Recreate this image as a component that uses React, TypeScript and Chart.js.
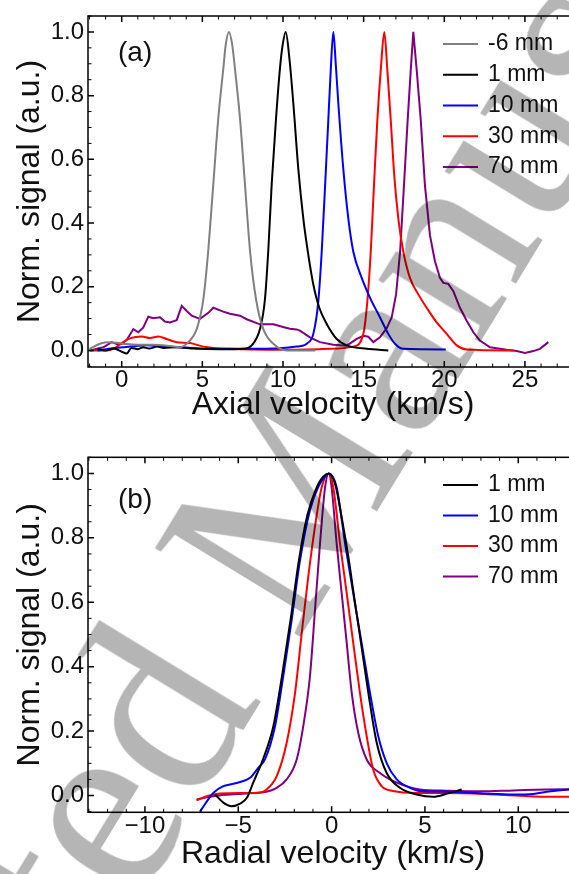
import React, { useEffect, useRef } from "react";
import { Chart, registerables } from "chart.js";

Chart.register(...registerables);

const SANS = "'Liberation Sans', Arial, Helvetica, sans-serif";
const INK = "#111111";

// ---------------- Panel (a): axial velocity ----------------
const axialXTicks = [0, 5, 10, 15, 20, 25];
const normYTicks = [0, 0.2, 0.4, 0.6, 0.8, 1.0];
const axialLabels = ["-6 mm", "1 mm", "10 mm", "30 mm", "70 mm"];
const axialColors = ["#808080", "#000000", "#0000ff", "#ff0000", "#800080"];

const axialM6V = [-2.0, -1.3, -0.8, -0.3, 0.3, 1.0, 2.0, 3.0, 3.61, 4.13, 4.65, 5.06, 5.37, 5.68, 5.99, 6.3, 6.45, 6.65, 6.85, 7.02, 7.33, 7.64, 7.95, 8.33, 8.78, 9.4, 10.23, 11.0, 12.0];
const axialM6S = [0.005, 0.022, 0.026, 0.024, 0.02, 0.018, 0.018, 0.014, 0.01, 0.026, 0.067, 0.16, 0.316, 0.523, 0.73, 0.885, 0.96, 1.0, 0.96, 0.885, 0.73, 0.523, 0.316, 0.16, 0.067, 0.021, 0.0, 0.0, 0.0];

const axial1V = [-1.5, -1.0, -0.5, 0.0, 0.31, 0.6, 1.0, 1.34, 1.7, 2.2, 2.6, 3.4, 4.5, 6.0, 7.0, 7.54, 8.06, 8.57, 8.88, 9.09, 9.3, 9.57, 9.81, 9.98, 10.17, 10.4, 10.64, 10.95, 11.26, 11.57, 11.88, 12.25, 12.71, 13.33, 13.95, 15.19, 16.53];
const axial1S = [0.005, 0.0, 0.006, -0.004, -0.01, 0.008, 0.004, 0.01, 0.006, 0.012, 0.008, 0.01, 0.006, 0.004, 0.004, 0.005, 0.016, 0.067, 0.16, 0.316, 0.523, 0.73, 0.885, 0.96, 1.0, 0.915, 0.776, 0.569, 0.414, 0.3, 0.207, 0.134, 0.083, 0.036, 0.016, 0.005, 0.0];

const axial10V = [-1.5, -0.52, 0.51, 1.55, 2.58, 3.61, 5.67, 7.75, 9.81, 10.85, 11.26, 11.47, 11.88, 12.19, 12.4, 12.61, 12.81, 12.96, 13.12, 13.27, 13.43, 13.74, 14.05, 14.36, 14.88, 15.39, 16.01, 16.53, 16.94, 17.46, 20.09];
const axial10S = [0.0, 0.007, 0.012, 0.016, 0.012, 0.01, 0.005, 0.005, 0.007, 0.012, 0.0155, 0.021, 0.052, 0.155, 0.31, 0.518, 0.724, 0.88, 1.0, 0.9, 0.776, 0.569, 0.414, 0.31, 0.228, 0.166, 0.104, 0.052, 0.021, 0.005, 0.003];

const axial30V = [-2.0, -0.93, -0.4, -0.1, 0.51, 1.24, 1.75, 2.27, 2.79, 3.41, 4.23, 5.06, 6.71, 9.81, 12.91, 14.36, 14.98, 15.23, 15.44, 15.64, 15.85, 16.06, 16.28, 16.47, 16.68, 16.9, 17.15, 17.46, 17.87, 18.39, 18.91, 19.53, 20.15, 20.77, 21.39, 24.3];
const axial30S = [0.0, 0.0, 0.008, 0.02, 0.038, 0.044, 0.039, 0.044, 0.036, 0.026, 0.023, 0.012, 0.005, 0.002, 0.005, 0.012, 0.052, 0.155, 0.31, 0.518, 0.724, 0.88, 1.0, 0.88, 0.724, 0.548, 0.414, 0.31, 0.228, 0.176, 0.134, 0.088, 0.052, 0.016, 0.003, 0.0];

const axial70V = [-1.96, -1.14, -0.62, -0.31, 0.0, 0.31, 0.72, 1.03, 1.34, 1.65, 1.96, 2.37, 2.68, 2.99, 3.41, 3.72, 4.03, 4.34, 4.85, 5.37, 5.68, 6.3, 6.71, 7.33, 7.75, 8.57, 9.4, 10.12, 10.43, 10.85, 11.05, 11.67, 12.29, 13.12, 13.95, 14.57, 14.98, 15.29, 15.6, 16.01, 16.43, 16.74, 17.01, 17.26, 17.5, 17.73, 17.92, 18.08, 18.29, 18.54, 18.8, 19.11, 19.42, 19.73, 19.94, 20.25, 20.56, 20.97, 21.39, 21.8, 22.21, 22.83, 23.87, 24.49, 25.0, 25.52, 25.93, 26.45];
const axial70S = [0.0, 0.01, 0.026, 0.02, 0.02, 0.033, 0.067, 0.057, 0.072, 0.106, 0.101, 0.104, 0.091, 0.088, 0.095, 0.14, 0.124, 0.109, 0.099, 0.118, 0.134, 0.122, 0.115, 0.109, 0.098, 0.082, 0.082, 0.072, 0.068, 0.066, 0.062, 0.041, 0.026, 0.018, 0.015, 0.036, 0.046, 0.043, 0.026, 0.041, 0.07, 0.104, 0.176, 0.31, 0.518, 0.724, 0.88, 1.0, 0.88, 0.724, 0.518, 0.362, 0.28, 0.228, 0.212, 0.209, 0.186, 0.134, 0.093, 0.057, 0.031, 0.01, 0.002, -0.002, -0.008, -0.002, 0.005, 0.026];

// ---------------- Panel (b): radial velocity ----------------
const radialXTicks = [-10, -5, 0, 5, 10];
const radialLabels = ["1 mm", "10 mm", "30 mm", "70 mm"];
const radialColors = ["#000000", "#0000ff", "#ff0000", "#800080"];

const radial1V = [-6.24, -5.8, -5.35, -4.9, -4.54, -4.2, -3.68, -3.12, -2.66, -2.2, -1.75, -1.3, -0.85, -0.45, -0.15, 0.2, 0.55, 0.9, 1.25, 1.61, 1.97, 2.42, 2.95, 3.66, 4.56, 5.45, 6.2, 6.97];
const radial1S = [0.003, -0.022, -0.033, -0.025, -0.007, 0.04, 0.112, 0.215, 0.37, 0.545, 0.731, 0.87, 0.95, 0.99, 1.0, 0.965, 0.86, 0.74, 0.6, 0.46, 0.318, 0.163, 0.07, 0.024, 0.003, -0.004, 0.006, 0.019];

const radial10V = [-7.05, -6.34, -5.8, -5.08, -4.37, -3.93, -3.57, -3.03, -2.59, -2.14, -1.69, -1.16, -0.7, -0.35, -0.15, 0.27, 0.72, 1.16, 1.61, 2.06, 2.5, 2.95, 3.49, 4.2, 4.73, 6.17, 7.95, 9.73, 10.8, 11.52, 12.72, 13.2];
const radial10S = [-0.05, 0.008, 0.029, 0.039, 0.055, 0.086, 0.112, 0.215, 0.37, 0.545, 0.731, 0.886, 0.96, 0.99, 1.0, 0.957, 0.783, 0.628, 0.473, 0.318, 0.184, 0.101, 0.05, 0.024, 0.014, 0.012, 0.007, 0.003, 0.005, 0.012, 0.019, 0.02];

const radial30V = [-7.23, -6.69, -5.98, -4.91, -4.01, -3.48, -2.94, -2.41, -1.96, -1.6, -1.25, -0.89, -0.53, -0.15, 0.09, 0.45, 0.81, 1.16, 1.52, 1.88, 2.23, 2.68, 3.3, 4.56, 6.17, 8.84, 11.52, 13.2];
const radial30S = [-0.015, -0.002, 0.006, 0.008, 0.008, 0.019, 0.06, 0.163, 0.318, 0.504, 0.68, 0.835, 0.957, 1.0, 0.957, 0.783, 0.628, 0.473, 0.318, 0.184, 0.08, 0.029, 0.014, 0.008, 0.008, 0.003, -0.004, -0.004];

const radial70V = [-7.23, -6.34, -5.44, -4.19, -3.66, -2.94, -2.41, -1.87, -1.52, -1.16, -0.89, -0.62, -0.35, -0.15, 0.0, 0.27, 0.54, 0.81, 1.08, 1.43, 1.88, 2.59, 3.49, 4.73, 6.17, 7.95, 9.73, 11.52, 13.2];
const radial70S = [-0.012, -0.002, 0.003, 0.008, 0.01, 0.024, 0.05, 0.112, 0.215, 0.37, 0.576, 0.783, 0.957, 1.0, 0.957, 0.783, 0.628, 0.473, 0.318, 0.194, 0.112, 0.07, 0.04, 0.019, 0.015, 0.013, 0.016, 0.019, 0.02];

type Series = { label: string; color: string; v: number[]; s: number[]; jagged?: boolean };
type Spec = {
  series: Series[];
  xMin: number;
  xMax: number;
  xTicks: number[];
  xTitle: string;
  padTop: number;
  xAxisHeight: number;
  xTickPad: number;
  xTitlePadBottom: number;
  tag: string;
  tagX: number;
  tagY: number;
  legendTop: number;
  legendStep: number;
};

const Y_MIN = -0.052;
const Y_MAX = 1.05;

const specA: Spec = {
  series: [
    { label: axialLabels[0], color: axialColors[0], v: axialM6V, s: axialM6S },
    { label: axialLabels[1], color: axialColors[1], v: axial1V, s: axial1S },
    { label: axialLabels[2], color: axialColors[2], v: axial10V, s: axial10S },
    { label: axialLabels[3], color: axialColors[3], v: axial30V, s: axial30S },
    { label: axialLabels[4], color: axialColors[4], v: axial70V, s: axial70S, jagged: true },
  ],
  xMin: -2.09,
  xMax: 28.29,
  xTicks: axialXTicks,
  xTitle: "Axial velocity (km/s)",
  padTop: 12,
  xAxisHeight: 70,
  xTickPad: 1,
  xTitlePadBottom: 15.5,
  tag: "(a)",
  tagX: 118,
  tagY: 37.5,
  legendTop: 28,
  legendStep: 30.75,
};

const specB: Spec = {
  series: [
    { label: radialLabels[0], color: radialColors[0], v: radial1V, s: radial1S },
    { label: radialLabels[1], color: radialColors[1], v: radial10V, s: radial10S },
    { label: radialLabels[2], color: radialColors[2], v: radial30V, s: radial30S },
    { label: radialLabels[3], color: radialColors[3], v: radial70V, s: radial70S },
  ],
  xMin: -13.05,
  xMax: 13.2,
  xTicks: radialXTicks,
  xTitle: "Radial velocity (km/s)",
  padTop: 20.3,
  xAxisHeight: 61.7,
  xTickPad: 2.4,
  xTitlePadBottom: 4.1,
  tag: "(b)",
  tagX: 118,
  tagY: 42.6,
  legendTop: 27.7,
  legendStep: 30.5,
};

function fmtX(v: number) {
  const r = Math.round(v);
  return r < 0 ? "\u2212" + Math.abs(r) : String(r);
}

function makeFramePlugin(spec: Spec) {
  return {
    id: "frame",
    afterDraw(chart: any) {
      const { ctx, chartArea } = chart;
      const { left, right, top, bottom } = chartArea;
      const xs = chart.scales.x;
      const ys = chart.scales.y;
      ctx.save();
      const drawX = (val: number, len: number, w: number) => {
        const px = xs.getPixelForValue(val);
        if (px < left - 0.5 || px > right + 0.5) return;
        ctx.lineWidth = w;
        ctx.beginPath();
        ctx.moveTo(px, bottom);
        ctx.lineTo(px, bottom - len);
        ctx.moveTo(px, top);
        ctx.lineTo(px, top + len);
        ctx.stroke();
      };
      const drawY = (val: number, len: number, w: number) => {
        const py = ys.getPixelForValue(val);
        if (py < top - 0.5 || py > bottom + 0.5) return;
        ctx.lineWidth = w;
        ctx.beginPath();
        ctx.moveTo(left, py);
        ctx.lineTo(left + len, py);
        ctx.moveTo(right, py);
        ctx.lineTo(right - len, py);
        ctx.stroke();
      };
      ctx.strokeStyle = "#000";
      for (let v = Math.ceil(spec.xMin); v <= spec.xMax; v++) {
        if (spec.xTicks.indexOf(v) === -1) drawX(v, 3.5, 1);
      }
      spec.xTicks.forEach((v) => drawX(v, 6, 1.5));
      for (let k = -1; k <= 21; k++) {
        if (k % 4 !== 0) drawY(k * 0.05, 3.5, 1);
      }
      normYTicks.forEach((v) => drawY(v, 6, 1.5));
      ctx.lineWidth = 1.5;
      ctx.strokeRect(left, top, right - left, bottom - top);

      // legend
      ctx.font = "23px " + SANS;
      ctx.textBaseline = "middle";
      ctx.textAlign = "left";
      spec.series.forEach((s, i) => {
        const y = top + spec.legendTop + i * spec.legendStep;
        ctx.strokeStyle = s.color;
        ctx.lineWidth = 2;
        ctx.beginPath();
        ctx.moveTo(443, y);
        ctx.lineTo(478, y);
        ctx.stroke();
        ctx.fillStyle = INK;
        ctx.fillText(s.label, 488, y);
      });

      // panel tag
      ctx.font = "28px " + SANS;
      ctx.fillStyle = INK;
      ctx.fillText(spec.tag, spec.tagX, top + spec.tagY);
      ctx.restore();
    },
  };
}

function Panel({ spec, top }: { spec: Spec; top: number }) {
  const ref = useRef<HTMLCanvasElement | null>(null);
  useEffect(() => {
    const canvas = ref.current;
    if (!canvas) return;
    const chart = new Chart(canvas, {
      type: "line",
      data: {
        datasets: spec.series.map((s) => ({
          label: s.label,
          data: s.v.map((x, i) => ({ x, y: s.s[i] })),
          borderColor: s.color,
          backgroundColor: s.color,
          borderWidth: 2,
          pointRadius: 0,
          fill: false,
          tension: s.jagged ? 0 : 0.4,
          cubicInterpolationMode: s.jagged ? "default" : "monotone",
        })),
      },
      options: {
        responsive: false,
        animation: false,
        events: [],
        layout: { padding: { top: spec.padTop, left: 0, right: 0, bottom: 0 } },
        plugins: { legend: { display: false }, tooltip: { enabled: false } },
        scales: {
          x: {
            type: "linear",
            position: "bottom",
            min: spec.xMin,
            max: spec.xMax,
            grid: { display: false, drawTicks: false },
            border: { display: false },
            ticks: {
              color: INK,
              padding: spec.xTickPad,
              maxRotation: 0,
              font: { family: SANS, size: 24, lineHeight: 1 },
              callback: (v: any) => fmtX(Number(v)),
            },
            title: {
              display: true,
              text: spec.xTitle,
              color: INK,
              font: { family: SANS, size: 32, lineHeight: 1 },
              padding: { top: 0, bottom: spec.xTitlePadBottom },
            },
            afterBuildTicks: (sc: any) => {
              sc.ticks = spec.xTicks.map((value) => ({ value }));
            },
            afterFit: (sc: any) => {
              sc.height = spec.xAxisHeight;
            },
          },
          y: {
            type: "linear",
            position: "left",
            min: Y_MIN,
            max: Y_MAX,
            grid: { display: false, drawTicks: false },
            border: { display: false },
            ticks: {
              color: INK,
              padding: 4,
              font: { family: SANS, size: 24, lineHeight: 1 },
              callback: (v: any) => Number(v).toFixed(1),
            },
            title: {
              display: true,
              text: "Norm. signal (a.u.)",
              color: INK,
              font: { family: SANS, size: 32, lineHeight: 1 },
              padding: { top: 14.6, bottom: 0 },
            },
            afterBuildTicks: (sc: any) => {
              sc.ticks = normYTicks.map((value) => ({ value }));
            },
            afterFit: (sc: any) => {
              sc.width = 88;
            },
          },
        },
      } as any,
      plugins: [makeFramePlugin(spec)],
    });
    return () => chart.destroy();
  }, [spec]);
  return (
    <div style={{ position: "absolute", left: 0, top, width: 578, height: 437 }}>
      <canvas ref={ref} width={578} height={437} style={{ display: "block", width: 578, height: 437 }} />
    </div>
  );
}

export default function App() {
  return (
    <div
      style={{
        position: "absolute",
        left: 0,
        top: 0,
        width: 569,
        height: 874,
        overflow: "hidden",
        background: "#ffffff",
      }}
    >
      <Panel spec={specA} top={0} />
      <Panel spec={specB} top={437} />
      <div
        style={{
          position: "absolute",
          left: -435,
          top: 1422.6,
          transformOrigin: "0 0",
          transform: "rotate(-58.6deg)",
          fontFamily: "'Liberation Serif', 'Times New Roman', serif",
          fontSize: 260,
          lineHeight: 1,
          whiteSpace: "nowrap",
          color: "rgba(0,0,0,0.29)",
          pointerEvents: "none",
        }}
      >
        Accepted Manuscript
      </div>
    </div>
  );
}
